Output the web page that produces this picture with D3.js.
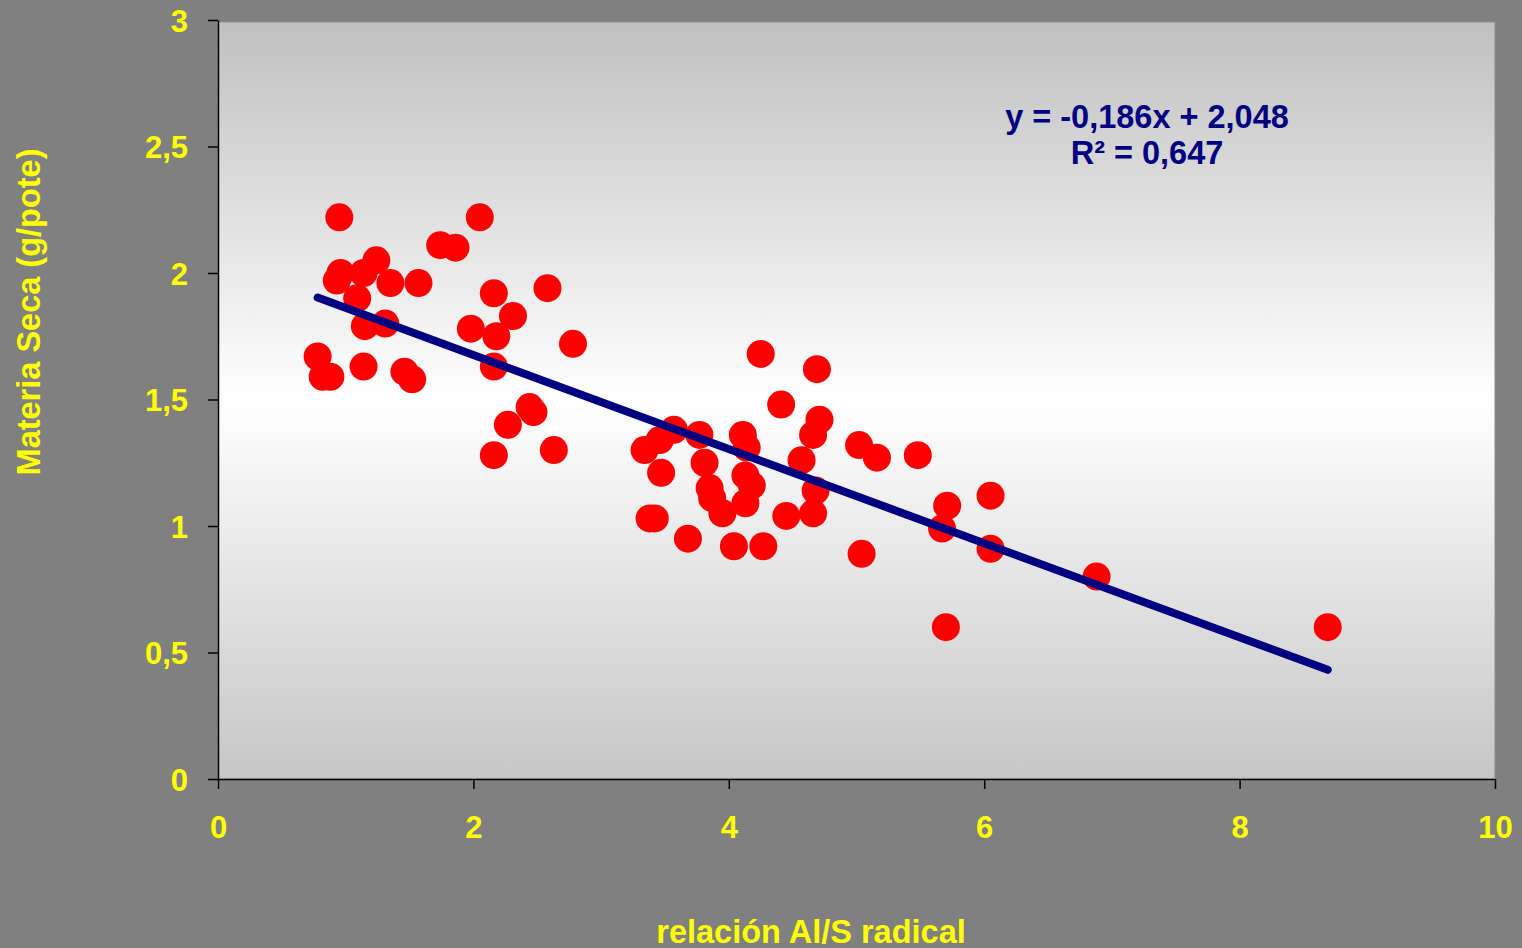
<!DOCTYPE html>
<html>
<head>
<meta charset="utf-8">
<script src="https://cdn.jsdelivr.net/npm/d3@7"></script>
<style>
  html, body { margin: 0; padding: 0; background: #808080; overflow: hidden; }
  svg { display: block; }
  text { font-family: "Liberation Sans", Arial, sans-serif; font-weight: bold; }
</style>
</head>
<body>
<svg id="mainSVG" width="1522" height="948"></svg>
<script>
// relación Al/S radical (x) vs Materia Seca (y)
var xValues = [
  0.95, 2.05, 1.74, 1.86, 0.96, 0.93, 1.14, 1.24, 1.35, 1.57,
  1.09, 2.16, 2.58, 2.31, 1.98, 2.18, 2.78, 1.15, 1.31, 0.78,
  0.88, 0.82, 1.14, 1.46, 1.52, 2.16, 2.44, 2.47, 2.27, 2.16,
  2.63,
  4.25, 4.69, 4.41, 4.71, 4.66, 5.02, 5.16, 3.34, 3.46, 3.57,
  3.77, 4.11, 4.14, 3.81, 3.47, 4.13, 4.18, 3.85, 3.87, 4.57,
  4.68, 4.66, 4.13, 3.95, 4.45, 3.38, 3.42, 3.68, 4.04, 4.27,
  5.04,
  5.48, 5.71, 5.67, 6.05, 6.05, 5.70, 6.88, 8.69
];
var yValues = [
  2.22, 2.22, 2.11, 2.10, 2.00, 1.97, 2.00, 2.05, 1.96, 1.96,
  1.90, 1.92, 1.94, 1.83, 1.78, 1.75, 1.72, 1.79, 1.80, 1.67,
  1.59, 1.59, 1.63, 1.61, 1.58, 1.63, 1.47, 1.45, 1.40, 1.28,
  1.30,
  1.68, 1.62, 1.48, 1.42, 1.36, 1.32, 1.27, 1.30, 1.34, 1.38,
  1.36, 1.36, 1.31, 1.25, 1.21, 1.20, 1.16, 1.15, 1.11, 1.26,
  1.14, 1.05, 1.09, 1.05, 1.04, 1.03, 1.03, 0.95, 0.92, 0.92,
  0.89,
  1.28, 1.08, 0.99, 1.12, 0.91, 0.60, 0.80, 0.60
];
var xTicks = [0, 2, 4, 6, 8, 10];
var yTicks = [0, 0.5, 1, 1.5, 2, 2.5, 3];
var trendSlope = -0.186;
var trendIntercept = 2.048;
var equationLines = ["y = -0,186x + 2,048", "R² = 0,647"];
var xTitle = "relación Al/S radical";
var yTitle = "Materia Seca (g/pote)";

var f = { left: 218, right: 1495, top: 20, bottom: 779 };
var fmt = function(d) { return String(d).replace(".", ","); };

var svg = d3.select("#mainSVG");

var x = d3.scaleLinear().domain([0, 10]).range([f.left, f.right]);
var y = d3.scaleLinear().domain([0, 3]).range([f.bottom, f.top]);

// plot background gradient (grey -> white -> grey)
var grad = svg.append("defs").append("linearGradient")
  .attr("id", "bg").attr("x1", 0).attr("y1", 0).attr("x2", 0).attr("y2", 1);
grad.append("stop").attr("offset", "0%").attr("stop-color", "#c0c0c0");
grad.append("stop").attr("offset", "50%").attr("stop-color", "#ffffff");
grad.append("stop").attr("offset", "100%").attr("stop-color", "#c6c6c6");

svg.append("rect")
  .attr("x", f.left).attr("y", f.top + 2)
  .attr("width", f.right - f.left).attr("height", f.bottom - f.top - 2)
  .attr("fill", "url(#bg)")
  .attr("stroke", "#8c8c8c").attr("stroke-width", 1);

// axes
var xAxis = svg.append("g")
  .attr("transform", "translate(0," + f.bottom + ")")
  .call(d3.axisBottom(x).tickValues(xTicks).tickFormat(fmt).tickSize(10).tickSizeOuter(0));
var yAxis = svg.append("g")
  .attr("transform", "translate(" + f.left + ",0)")
  .call(d3.axisLeft(y).tickValues(yTicks).tickFormat(fmt).tickSize(10).tickSizeOuter(0));

[xAxis, yAxis].forEach(function(a) {
  a.select(".domain").attr("stroke", "#000").attr("stroke-width", 1.5);
  a.selectAll(".tick line").attr("stroke", "#000").attr("stroke-width", 1.5);
  a.selectAll(".tick text")
    .attr("fill", "#ffff00")
    .style("font-size", "31px")
    .style("font-family", "'Liberation Sans', Arial, sans-serif")
    .style("font-weight", "bold");
});
xAxis.selectAll(".tick text").attr("y", 37).attr("dy", "0.71em");
yAxis.selectAll(".tick text").attr("x", -30).attr("dy", "0.36em");

// points
svg.append("g").selectAll("circle")
  .data(d3.range(xValues.length))
  .enter().append("circle")
  .attr("cx", function(i) { return x(xValues[i]); })
  .attr("cy", function(i) { return y(yValues[i]); })
  .attr("r", 14)
  .attr("fill", "#ff0000");

// linear trend line
var xExt = d3.extent(xValues);
svg.append("line")
  .attr("x1", x(xExt[0])).attr("y1", y(trendSlope * xExt[0] + trendIntercept))
  .attr("x2", x(xExt[1])).attr("y2", y(trendSlope * xExt[1] + trendIntercept))
  .attr("stroke", "#000080").attr("stroke-width", 8)
  .attr("stroke-linecap", "round");

// equation
svg.append("g").selectAll("text")
  .data(equationLines)
  .enter().append("text")
  .attr("x", 1147)
  .attr("y", function(d, i) { return 128 + i * 36; })
  .attr("text-anchor", "middle")
  .attr("fill", "#000080")
  .style("font-size", "32.5px")
  .text(function(d) { return d; });

// axis titles
svg.append("text")
  .attr("x", 811).attr("y", 943)
  .attr("text-anchor", "middle")
  .attr("fill", "#ffff00")
  .style("font-size", "32.5px")
  .text(xTitle);

svg.append("text")
  .attr("transform", "translate(40,312) rotate(-90)")
  .attr("text-anchor", "middle")
  .attr("fill", "#ffff00")
  .style("font-size", "32.5px")
  .text(yTitle);
</script>
</body>
</html>
